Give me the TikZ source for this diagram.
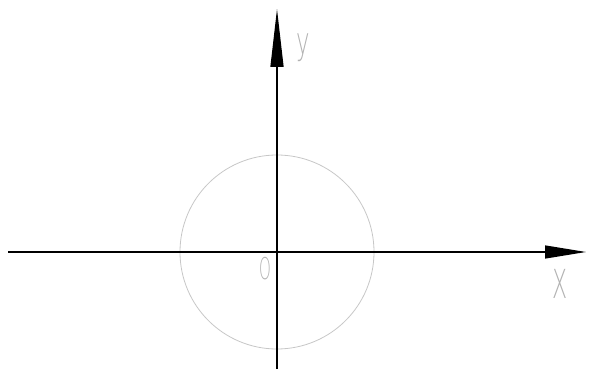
\documentclass[tikz,border=0pt]{standalone}
\usepackage{fontspec}
\setmainfont{DejaVu Sans}
\newfontfamily\thinfont{DejaVu Sans ExtraLight}
\usetikzlibrary{arrows.meta}
\begin{document}
\begin{tikzpicture}[x=1pt,y=-1pt,
  axis/.style={line width=1.3pt,black},
  lbl/.style={text=black!30,inner sep=0pt,font=\thinfont\fontsize{38}{38}\selectfont\addfontfeatures{FakeStretch=0.6}}]
\useasboundingbox (0,0) rectangle (597,371);
\coordinate (O) at (277,252);
\coordinate (xs) at (8,252);
\coordinate (xe) at (586,252);
\coordinate (ys) at (277,369);
\coordinate (ye) at (277,9);
\draw[black!22,line width=0.8pt] (O) circle[radius=97];
\draw[axis,-{Triangle[length=41pt,width=13pt]}] (xs) -- (xe);
\draw[axis,-{Triangle[length=58pt,width=13pt]}] (ys) -- (ye);
\node[lbl,anchor=base] (ylab) at (303,55) {y};
\node[lbl,anchor=base,font=\thinfont\fontsize{40}{40}\selectfont\addfontfeatures{FakeStretch=0.55}] (xlab) at (560,299) {X};
\node[lbl,anchor=base,font=\thinfont\fontsize{30}{30}\selectfont\addfontfeatures{FakeStretch=0.5}] (olab) at (265,280) {O};
\end{tikzpicture}
\end{document}
